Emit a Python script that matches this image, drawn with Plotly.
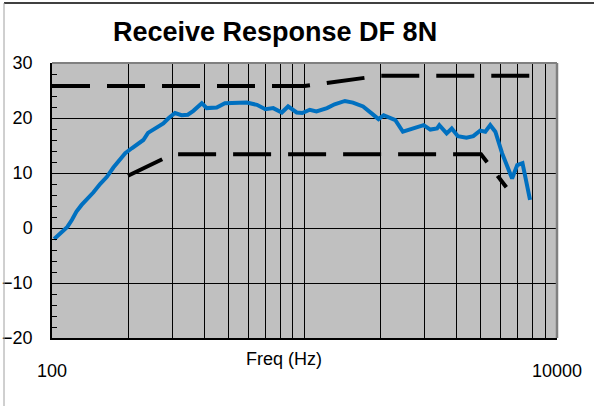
import plotly.graph_objects as go

# Measured receive response (Hz, dB)
freq = [102, 108, 115, 120, 125, 131, 138, 146, 155, 165, 175, 185, 195, 207, 218, 230,
        240, 250, 263, 276, 290, 307, 326, 345, 363, 392, 410, 449, 484, 540, 590, 648,
        700, 752, 813, 861, 931, 980, 1049, 1115, 1228, 1316, 1446, 1555, 1706, 1844,
        1964, 2058, 2290, 2453, 2699, 2963, 3150, 3350, 3420, 3655, 3830, 4050, 4380,
        4660, 4960, 5200, 5440, 5700, 6060, 6440, 6640, 6960, 7300, 7820]
response = [-2.0, -1.0, 0.2, 1.5, 3.0, 4.2, 5.2, 6.5, 8.0, 9.3, 11.0, 12.3, 13.6, 14.5,
            15.2, 16.0, 17.3, 17.8, 18.3, 19.0, 20.0, 20.9, 20.5, 20.6, 21.3, 22.7, 21.8,
            21.9, 22.7, 22.8, 22.8, 22.4, 21.6, 21.8, 21.0, 22.1, 21.0, 20.9, 21.5, 21.2,
            21.8, 22.5, 23.1, 22.8, 22.1, 20.85, 19.8, 20.5, 19.6, 17.5, 18.2, 18.7, 17.9,
            18.1, 18.7, 17.2, 18.1, 16.7, 16.4, 16.7, 17.7, 17.5, 18.7, 17.5, 13.6, 10.2,
            9.0, 11.45, 11.8, 5.1]

# Upper / lower limit masks
upper_freq = [100, 1000, 2000, 8000]
upper_lim = [25.8, 25.8, 27.7, 27.7]
lower_freq = [200, 300, 5000, 6300]
lower_lim = [9.5, 13.4, 13.4, 7.4]

# Axis ticks / grid
x_tickvals = [100, 10000]
x_ticktext = ["100", "10000"]
x_gridvals = [200, 300, 400, 500, 600, 700, 800, 900, 1000,
              2000, 3000, 4000, 5000, 6000, 7000, 8000, 9000]
y_range = [-20, 30]

FONT = "Liberation Sans, Arial, sans-serif"

fig = go.Figure()
fig.add_trace(go.Scatter(x=upper_freq, y=upper_lim, mode="lines",
                         line=dict(color="black", width=4, dash="38px,17px"),
                         hoverinfo="skip", showlegend=False))
fig.add_trace(go.Scatter(x=lower_freq, y=lower_lim, mode="lines",
                         line=dict(color="black", width=4, dash="38px,17px"),
                         hoverinfo="skip", showlegend=False))
fig.add_trace(go.Scatter(x=freq, y=response, mode="lines",
                         line=dict(color="#0070C0", width=4),
                         showlegend=False))

fig.update_layout(
    width=594, height=406,
    margin=dict(l=52, r=37, t=63, b=68, pad=0, autoexpand=False),
    paper_bgcolor="white",
    plot_bgcolor="#C0C0C0",
    font=dict(family=FONT, size=18, color="black"),
    showlegend=False,
    xaxis=dict(
        type="log", range=[2, 4], automargin=False,
        tickmode="array", tickvals=x_tickvals, ticktext=x_ticktext,
        ticks="", showgrid=True, gridcolor="black", gridwidth=1,
        showline=True, linecolor="black", linewidth=1.5,
        ticklabelstandoff=16, zeroline=False,
        minor=dict(tickmode="array", tickvals=x_gridvals, showgrid=True,
                   gridcolor="black", gridwidth=1, ticks=""),
    ),
    yaxis=dict(
        range=y_range, tick0=0, dtick=10, automargin=False,
        ticks="", showgrid=True, gridcolor="black", gridwidth=1,
        showline=True, linecolor="black", linewidth=1.5,
        zeroline=False, ticklabelstandoff=14,
        minor=dict(dtick=2, ticks="inside", ticklen=5, tickcolor="black",
                   tickwidth=1, showgrid=False),
    ),
    annotations=[
        dict(text="<b>Receive Response DF 8N</b>", xref="paper", yref="paper",
             x=(275 - 52) / 505, y=(338 - 32) / 275, xanchor="center", yanchor="middle",
             showarrow=False, font=dict(size=27, family=FONT)),
        dict(text="Freq (Hz)", xref="paper", yref="paper",
             x=(284 - 52) / 505, y=(338 - 359) / 275, xanchor="center", yanchor="middle",
             showarrow=False, font=dict(size=18, family=FONT)),
    ],
    shapes=[
        # plot area top/right border (gray)
        dict(type="line", xref="paper", yref="paper", x0=0, x1=1, y0=1, y1=1,
             line=dict(color="#808080", width=2)),
        dict(type="line", xref="paper", yref="paper", x0=1, x1=1, y0=0, y1=1,
             line=dict(color="#808080", width=2.5)),
        # outer frame
        dict(type="line", xref="paper", yref="paper", x0=(4 - 52) / 505, x1=(594 - 52) / 505,
             y0=(338 - 3) / 275, y1=(338 - 3) / 275, line=dict(color="black", width=1.5)),
        dict(type="line", xref="paper", yref="paper", x0=(4 - 52) / 505, x1=(4 - 52) / 505,
             y0=(338 - 3) / 275, y1=(338 - 406) / 275, line=dict(color="#A0A0A0", width=1)),
    ],
)

fig.write_html("out.html", config={"displayModeBar": False},
               post_script="document.body.style.margin='0';")
